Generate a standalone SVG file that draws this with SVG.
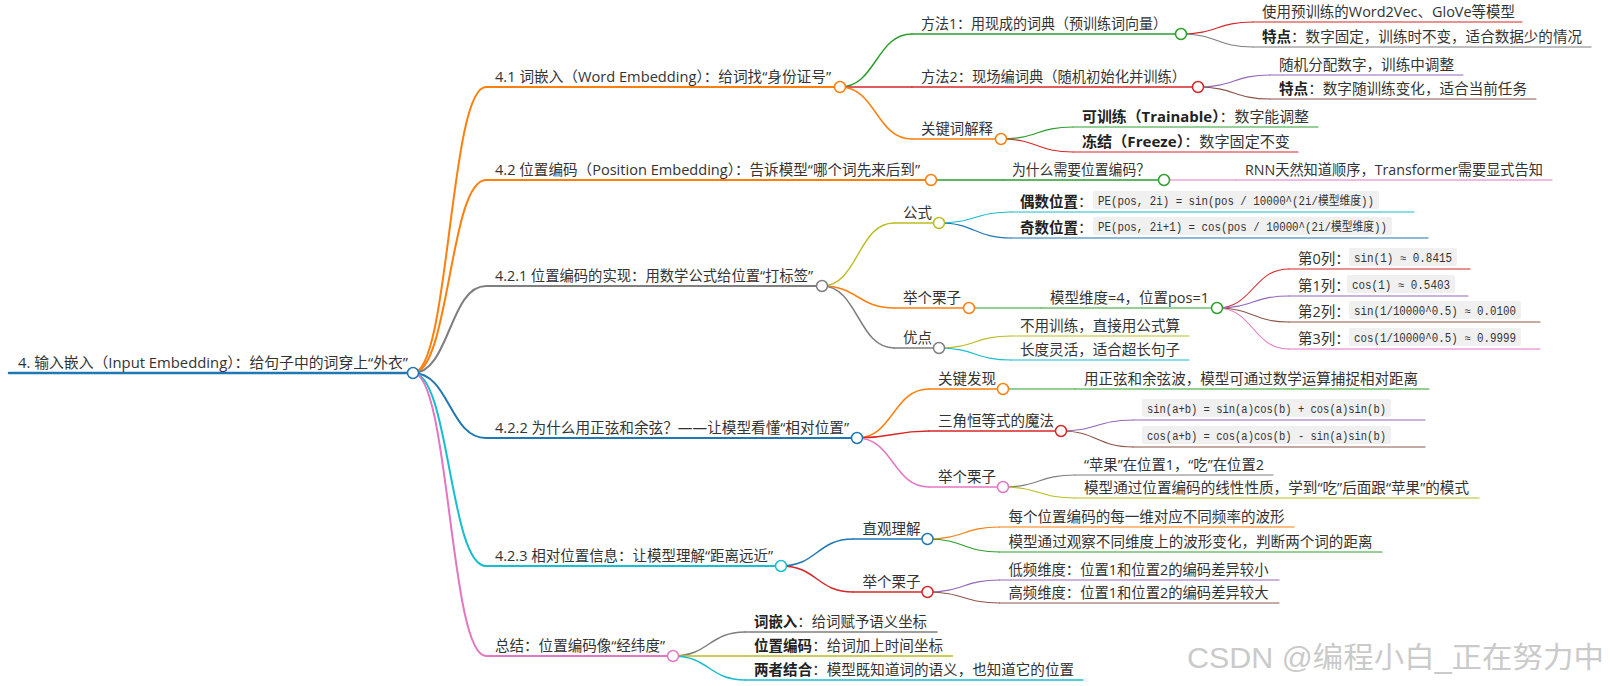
<svg xmlns="http://www.w3.org/2000/svg" width="1610" height="686" viewBox="0 0 1610 686">
<style>
.t{font-family:"Open Sans","Noto Sans CJK SC",sans-serif;font-size:14.5px;fill:#333}
.b{font-weight:bold;fill:#222}
.code{font-family:"Liberation Mono","Noto Sans CJK SC",monospace;font-size:12px;fill:#333}
.cb{fill:#f0f0f0}
path{fill:none;stroke-linecap:round}
.c{fill:#fff;stroke-width:1.5}
.w0{stroke-width:2.5}.w1{stroke-width:2}.w2{stroke-width:1.5}.w3{stroke-width:1.2}.w4{stroke-width:1.1}
.blue{stroke:#1f77b4}.orange{stroke:#ff7f0e}.green{stroke:#2ca02c}.red{stroke:#d62728}.purple{stroke:#9467bd}
.brown{stroke:#8c564b}.pink{stroke:#e377c2}.gray{stroke:#7f7f7f}.olive{stroke:#bcbd22}.cyan{stroke:#17becf}
.wm{font-family:"Liberation Sans","Noto Sans CJK SC",sans-serif;font-size:29px;fill:#cacaca}
</style>
<rect width="1610" height="686" fill="#fff"/>
<g id="connectors">
<path class="orange w1" d="M413,373C449.5,373 449.5,87 486,87"/>
<path class="orange w1" d="M413,373C449.5,373 449.5,180 486,180"/>
<path class="gray w1" d="M413,373C449.5,373 449.5,286 486,286"/>
<path class="blue w1" d="M413,373C449.5,373 449.5,438 486,438"/>
<path class="cyan w1" d="M413,373C449.5,373 449.5,566 486,566"/>
<path class="pink w1" d="M413,373C449.5,373 449.5,656 486,656"/>
<path class="green w2" d="M840,87C876,87 876,34 912,34"/>
<path class="red w2" d="M840,87H912"/>
<path class="orange w2" d="M840,87C876,87 876,139 912,139"/>
<path class="red w3" d="M1181,34C1217,34 1217,22 1253,22"/>
<path class="gray w3" d="M1181,34C1217,34 1217,47 1253,47"/>
<path class="purple w3" d="M1198,87C1234,87 1234,75 1270,75"/>
<path class="brown w3" d="M1198,87C1234,87 1234,99 1270,99"/>
<path class="green w3" d="M1001,139C1037,139 1037,127 1073,127"/>
<path class="red w3" d="M1001,139C1037,139 1037,152 1073,152"/>
<path class="green w2" d="M931,180H1003"/>
<path class="pink w3" d="M1164,180H1236"/>
<path class="olive w2" d="M822,286C858,286 858,223 894,223"/>
<path class="orange w2" d="M822,286C858,286 858,308 894,308"/>
<path class="gray w2" d="M822,286C858,286 858,348 894,348"/>
<path class="cyan w3" d="M939,223C975,223 975,212 1011,212"/>
<path class="blue w3" d="M939,223C975,223 975,238 1011,238"/>
<path class="green w3" d="M969,308H1041"/>
<path class="red w4" d="M1217,308C1253,308 1253,269 1289,269"/>
<path class="purple w4" d="M1217,308C1253,308 1253,296 1289,296"/>
<path class="brown w4" d="M1217,308C1253,308 1253,322 1289,322"/>
<path class="pink w4" d="M1217,308C1253,308 1253,349 1289,349"/>
<path class="olive w3" d="M939,348C975,348 975,336 1011,336"/>
<path class="cyan w3" d="M939,348C975,348 975,360 1011,360"/>
<path class="orange w2" d="M857,438C893,438 893,389 929,389"/>
<path class="red w2" d="M857,438C893,438 893,431 929,431"/>
<path class="pink w2" d="M857,438C893,438 893,487 929,487"/>
<path class="green w3" d="M1003,389H1075"/>
<path class="purple w3" d="M1061,431C1097,431 1097,420 1133,420"/>
<path class="brown w3" d="M1061,431C1097,431 1097,447 1133,447"/>
<path class="gray w3" d="M1003,487C1039,487 1039,475 1075,475"/>
<path class="olive w3" d="M1003,487C1039,487 1039,498 1075,498"/>
<path class="blue w2" d="M781,566C817,566 817,539 853,539"/>
<path class="red w2" d="M781,566C817,566 817,592 853,592"/>
<path class="orange w3" d="M927.5,539C963.5,539 963.5,527 999.5,527"/>
<path class="green w3" d="M927.5,539C963.5,539 963.5,552 999.5,552"/>
<path class="purple w3" d="M927.5,592C963.5,592 963.5,580 999.5,580"/>
<path class="brown w3" d="M927.5,592C963.5,592 963.5,603 999.5,603"/>
<path class="gray w2" d="M673,656C709,656 709,632 745,632"/>
<path class="olive w2" d="M673,656H745"/>
<path class="cyan w2" d="M673,656C709,656 709,680 745,680"/>
</g>

<g id="n-root"><path class="blue w0" d="M9,373H413"/><circle class="c blue" cx="413" cy="373" r="5.5"/><text class="t" x="18" y="367.5" textLength="390" lengthAdjust="spacingAndGlyphs">4. 输入嵌入（Input Embedding）：给句子中的词穿上“外衣”</text></g>

<g id="n-41"><path class="orange w1" d="M486,87H840"/><circle class="c orange" cx="840" cy="87" r="5.5"/><text class="t" x="495" y="81.5" textLength="336" lengthAdjust="spacingAndGlyphs">4.1 词嵌入（Word Embedding）：给词找“身份证号”</text></g>
<g id="n-41-m1"><path class="green w2" d="M912,34H1181"/><circle class="c green" cx="1181" cy="34" r="5.5"/><text class="t" x="921" y="28.5" textLength="246" lengthAdjust="spacingAndGlyphs">方法1：用现成的词典（预训练词向量）</text></g>
<g id="n-41-m1-a"><path class="red w3" d="M1253,22H1522"/><text class="t" x="1262" y="16.5" textLength="253" lengthAdjust="spacingAndGlyphs">使用预训练的Word2Vec、GloVe等模型</text></g>
<g id="n-41-m1-b"><path class="gray w3" d="M1253,47H1591"/><text class="t" x="1262" y="41.5" textLength="320" lengthAdjust="spacingAndGlyphs"><tspan class="b">特点</tspan>：数字固定，训练时不变，适合数据少的情况</text></g>
<g id="n-41-m2"><path class="red w2" d="M912,87H1198"/><circle class="c red" cx="1198" cy="87" r="5.5"/><text class="t" x="921" y="81.5" textLength="265" lengthAdjust="spacingAndGlyphs">方法2：现场编词典（随机初始化并训练）</text></g>
<g id="n-41-m2-a"><path class="purple w3" d="M1270,75H1463"/><text class="t" x="1279" y="69.5" textLength="175" lengthAdjust="spacingAndGlyphs">随机分配数字，训练中调整</text></g>
<g id="n-41-m2-b"><path class="brown w3" d="M1270,99H1536"/><text class="t" x="1279" y="93.5" textLength="248" lengthAdjust="spacingAndGlyphs"><tspan class="b">特点</tspan>：数字随训练变化，适合当前任务</text></g>
<g id="n-41-kw"><path class="orange w2" d="M912,139H1001"/><circle class="c orange" cx="1001" cy="139" r="5.5"/><text class="t" x="921" y="133.5" textLength="72" lengthAdjust="spacingAndGlyphs">关键词解释</text></g>
<g id="n-41-kw-a"><path class="green w3" d="M1073,127H1318"/><text class="t" x="1082" y="121.5" textLength="227" lengthAdjust="spacingAndGlyphs"><tspan class="b">可训练（Trainable）</tspan>：数字能调整</text></g>
<g id="n-41-kw-b"><path class="red w3" d="M1073,152H1298"/><text class="t" x="1082" y="146.5" textLength="208" lengthAdjust="spacingAndGlyphs"><tspan class="b">冻结（Freeze）</tspan>：数字固定不变</text></g>

<g id="n-42"><path class="orange w1" d="M486,180H931"/><circle class="c orange" cx="931" cy="180" r="5.5"/><text class="t" x="495" y="174.5" textLength="425" lengthAdjust="spacingAndGlyphs">4.2 位置编码（Position Embedding）：告诉模型“哪个词先来后到”</text></g>
<g id="n-42-why"><path class="green w2" d="M1003,180H1164"/><circle class="c green" cx="1164" cy="180" r="5.5"/><text class="t" x="1012" y="174.5" textLength="138" lengthAdjust="spacingAndGlyphs">为什么需要位置编码？</text></g>
<g id="n-42-why-a"><path class="pink w3" d="M1236,180H1552"/><text class="t" x="1245" y="174.5" textLength="298" lengthAdjust="spacingAndGlyphs">RNN天然知道顺序，Transformer需要显式告知</text></g>

<g id="n-421"><path class="gray w1" d="M486,286H822"/><circle class="c gray" cx="822" cy="286" r="5.5"/><text class="t" x="495" y="280.5" textLength="318" lengthAdjust="spacingAndGlyphs">4.2.1 位置编码的实现：用数学公式给位置“打标签”</text></g>
<g id="n-421-gs"><path class="olive w2" d="M894,223H939"/><circle class="c olive" cx="939" cy="223" r="5.5"/><text class="t" x="903" y="217.5">公式</text></g>
<g id="n-421-gs-a"><path class="cyan w3" d="M1011,212H1414"/><text class="t" x="1020" y="206.5"><tspan class="b">偶数位置</tspan>：</text><rect class="cb" x="1093" y="191" width="286" height="18" rx="2"/><text class="code" x="1098" y="204.5" textLength="276" lengthAdjust="spacingAndGlyphs">PE(pos, 2i) = sin(pos / 10000^(2i/模型维度))</text></g>
<g id="n-421-gs-b"><path class="blue w3" d="M1011,238H1428"/><text class="t" x="1020" y="232.5"><tspan class="b">奇数位置</tspan>：</text><rect class="cb" x="1093" y="217" width="299" height="18" rx="2"/><text class="code" x="1098" y="230.5" textLength="289" lengthAdjust="spacingAndGlyphs">PE(pos, 2i+1) = cos(pos / 10000^(2i/模型维度))</text></g>
<g id="n-421-ex"><path class="orange w2" d="M894,308H969"/><circle class="c orange" cx="969" cy="308" r="5.5"/><text class="t" x="903" y="302.5">举个栗子</text></g>
<g id="n-421-ex-dim"><path class="green w3" d="M1041,308H1217"/><circle class="c green" cx="1217" cy="308" r="5.5"/><text class="t" x="1050" y="302.5" textLength="159" lengthAdjust="spacingAndGlyphs">模型维度=4，位置pos=1</text></g>
<g id="n-col0"><path class="red w4" d="M1289,269H1470"/><text class="t" x="1298" y="263.5">第0列：</text><rect class="cb" x="1349" y="248" width="108" height="18" rx="2"/><text class="code" x="1354" y="261.5" textLength="98" lengthAdjust="spacingAndGlyphs">sin(1) ≈ 0.8415</text></g>
<g id="n-col1"><path class="purple w4" d="M1289,296H1468"/><text class="t" x="1298" y="290.5">第1列：</text><rect class="cb" x="1347" y="275" width="108" height="18" rx="2"/><text class="code" x="1352" y="288.5" textLength="98" lengthAdjust="spacingAndGlyphs">cos(1) ≈ 0.5403</text></g>
<g id="n-col2"><path class="brown w4" d="M1289,322H1540"/><text class="t" x="1298" y="316.5">第2列：</text><rect class="cb" x="1349" y="301" width="172" height="18" rx="2"/><text class="code" x="1354" y="314.5" textLength="162" lengthAdjust="spacingAndGlyphs">sin(1/10000^0.5) ≈ 0.0100</text></g>
<g id="n-col3"><path class="pink w4" d="M1289,349H1540"/><text class="t" x="1298" y="343.5">第3列：</text><rect class="cb" x="1349" y="328" width="172" height="18" rx="2"/><text class="code" x="1354" y="341.5" textLength="162" lengthAdjust="spacingAndGlyphs">cos(1/10000^0.5) ≈ 0.9999</text></g>
<g id="n-421-yd"><path class="gray w2" d="M894,348H939"/><circle class="c gray" cx="939" cy="348" r="5.5"/><text class="t" x="903" y="342.5">优点</text></g>
<g id="n-421-yd-a"><path class="olive w3" d="M1011,336H1189"/><text class="t" x="1020" y="330.5" textLength="160" lengthAdjust="spacingAndGlyphs">不用训练，直接用公式算</text></g>
<g id="n-421-yd-b"><path class="cyan w3" d="M1011,360H1189"/><text class="t" x="1020" y="354.5" textLength="160" lengthAdjust="spacingAndGlyphs">长度灵活，适合超长句子</text></g>

<g id="n-422"><path class="blue w1" d="M486,438H857"/><circle class="c blue" cx="857" cy="438" r="5.5"/><text class="t" x="495" y="432.5" textLength="354" lengthAdjust="spacingAndGlyphs">4.2.2 为什么用正弦和余弦？——让模型看懂“相对位置”</text></g>
<g id="n-422-kf"><path class="orange w2" d="M929,389H1003"/><circle class="c orange" cx="1003" cy="389" r="5.5"/><text class="t" x="938" y="383.5">关键发现</text></g>
<g id="n-422-kf-a"><path class="green w3" d="M1075,389H1429"/><text class="t" x="1084" y="383.5" textLength="334" lengthAdjust="spacingAndGlyphs">用正弦和余弦波，模型可通过数学运算捕捉相对距离</text></g>
<g id="n-422-tri"><path class="red w2" d="M929,431H1061"/><circle class="c red" cx="1061" cy="431" r="5.5"/><text class="t" x="938" y="425.5" textLength="116" lengthAdjust="spacingAndGlyphs">三角恒等式的魔法</text></g>
<g id="n-422-tri-a"><path class="purple w3" d="M1133,420H1425"/><rect class="cb" x="1142" y="399" width="249" height="18" rx="2"/><text class="code" x="1147" y="412.5" textLength="239" lengthAdjust="spacingAndGlyphs">sin(a+b) = sin(a)cos(b) + cos(a)sin(b)</text></g>
<g id="n-422-tri-b"><path class="brown w3" d="M1133,447H1425"/><rect class="cb" x="1142" y="426" width="249" height="18" rx="2"/><text class="code" x="1147" y="439.5" textLength="239" lengthAdjust="spacingAndGlyphs">cos(a+b) = cos(a)cos(b) - sin(a)sin(b)</text></g>
<g id="n-422-ex"><path class="pink w2" d="M929,487H1003"/><circle class="c pink" cx="1003" cy="487" r="5.5"/><text class="t" x="938" y="481.5">举个栗子</text></g>
<g id="n-422-ex-a"><path class="gray w3" d="M1075,475H1273"/><text class="t" x="1084" y="469.5" textLength="180" lengthAdjust="spacingAndGlyphs">“苹果”在位置1，“吃”在位置2</text></g>
<g id="n-422-ex-b"><path class="olive w3" d="M1075,498H1479"/><text class="t" x="1084" y="492.5" textLength="385" lengthAdjust="spacingAndGlyphs">模型通过位置编码的线性性质，学到“吃”后面跟“苹果”的模式</text></g>

<g id="n-423"><path class="cyan w1" d="M486,566H781"/><circle class="c cyan" cx="781" cy="566" r="5.5"/><text class="t" x="495" y="560.5" textLength="278" lengthAdjust="spacingAndGlyphs">4.2.3 相对位置信息：让模型理解“距离远近”</text></g>
<g id="n-423-zg"><path class="blue w2" d="M853,539H927.5"/><circle class="c blue" cx="927.5" cy="539" r="5.5"/><text class="t" x="862.5" y="533.5">直观理解</text></g>
<g id="n-423-zg-a"><path class="orange w3" d="M999.5,527H1294"/><text class="t" x="1008.5" y="521.5" textLength="276" lengthAdjust="spacingAndGlyphs">每个位置编码的每一维对应不同频率的波形</text></g>
<g id="n-423-zg-b"><path class="green w3" d="M999.5,552H1382"/><text class="t" x="1008.5" y="546.5" textLength="364" lengthAdjust="spacingAndGlyphs">模型通过观察不同维度上的波形变化，判断两个词的距离</text></g>
<g id="n-423-ex"><path class="red w2" d="M853,592H927.5"/><circle class="c red" cx="927.5" cy="592" r="5.5"/><text class="t" x="862.5" y="586.5">举个栗子</text></g>
<g id="n-423-ex-a"><path class="purple w3" d="M999.5,580H1279"/><text class="t" x="1008.5" y="574.5" textLength="260" lengthAdjust="spacingAndGlyphs">低频维度：位置1和位置2的编码差异较小</text></g>
<g id="n-423-ex-b"><path class="brown w3" d="M999.5,603H1279"/><text class="t" x="1008.5" y="597.5" textLength="260" lengthAdjust="spacingAndGlyphs">高频维度：位置1和位置2的编码差异较大</text></g>

<g id="n-sum"><path class="pink w1" d="M486,656H673"/><circle class="c pink" cx="673" cy="656" r="5.5"/><text class="t" x="495" y="650.5" textLength="170" lengthAdjust="spacingAndGlyphs">总结：位置编码像“经纬度”</text></g>
<g id="n-sum-a"><path class="gray w2" d="M745,632H937"/><text class="t" x="754" y="626.5" textLength="173" lengthAdjust="spacingAndGlyphs"><tspan class="b">词嵌入</tspan>：给词赋予语义坐标</text></g>
<g id="n-sum-b"><path class="olive w2" d="M745,656H952.5"/><text class="t" x="754" y="650.5" textLength="189" lengthAdjust="spacingAndGlyphs"><tspan class="b">位置编码</tspan>：给词加上时间坐标</text></g>
<g id="n-sum-c"><path class="cyan w2" d="M745,680H1083"/><text class="t" x="754" y="674.5" textLength="320" lengthAdjust="spacingAndGlyphs"><tspan class="b">两者结合</tspan>：模型既知道词的语义，也知道它的位置</text></g>

<text class="wm" x="1187" y="668" textLength="417" lengthAdjust="spacingAndGlyphs">CSDN @编程小白_正在努力中</text>
</svg>
